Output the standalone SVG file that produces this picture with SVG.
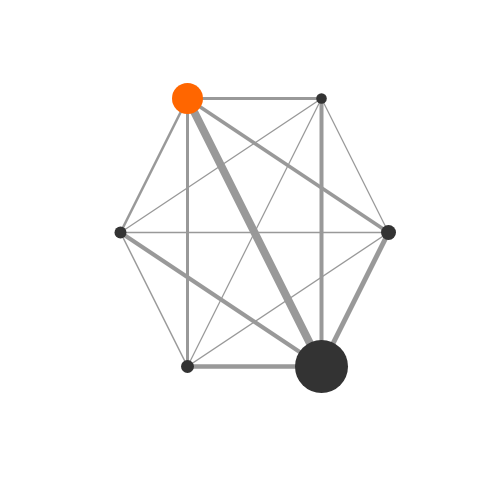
<svg xmlns="http://www.w3.org/2000/svg" width="480" height="480" viewBox="0 0 480 480">
<style>
.e{stroke:#999;stroke-linecap:butt;fill:none}
.n{fill:#333}
</style>
<rect width="480" height="480" fill="#fff"/>
<g id="edges">
<line class="e" x1="187.5" y1="98.5" x2="321.5" y2="98.5" stroke-width="3"/>
<line class="e" x1="187.5" y1="98.5" x2="388.5" y2="232.5" stroke-width="3.5"/>
<line class="e" x1="187.5" y1="98.5" x2="321.5" y2="366.5" stroke-width="8"/>
<line class="e" x1="187.5" y1="98.5" x2="187.5" y2="366.5" stroke-width="3"/>
<line class="e" x1="187.5" y1="98.5" x2="120.5" y2="232.5" stroke-width="2.5"/>
<line class="e" x1="321.5" y1="98.5" x2="388.5" y2="232.5" stroke-width="1.3"/>
<line class="e" x1="321.5" y1="98.5" x2="321.5" y2="366.5" stroke-width="4"/>
<line class="e" x1="321.5" y1="98.5" x2="187.5" y2="366.5" stroke-width="1.3"/>
<line class="e" x1="321.5" y1="98.5" x2="120.5" y2="232.5" stroke-width="1.3"/>
<line class="e" x1="388.5" y1="232.5" x2="321.5" y2="366.5" stroke-width="5"/>
<line class="e" x1="388.5" y1="232.5" x2="187.5" y2="366.5" stroke-width="1.5"/>
<line class="e" x1="388.5" y1="232.5" x2="120.5" y2="232.5" stroke-width="1.5"/>
<line class="e" x1="321.5" y1="366.5" x2="187.5" y2="366.5" stroke-width="4.5"/>
<line class="e" x1="321.5" y1="366.5" x2="120.5" y2="232.5" stroke-width="4"/>
<line class="e" x1="187.5" y1="366.5" x2="120.5" y2="232.5" stroke-width="1.5"/>
</g>
<g id="nodeA"><circle cx="187.5" cy="98.5" r="15.5" fill="#ff6600"/></g>
<g id="nodeB"><circle class="n" cx="321.5" cy="98.5" r="5.3"/></g>
<g id="nodeC"><circle class="n" cx="388.5" cy="232.5" r="7.5"/></g>
<g id="nodeD"><circle class="n" cx="321.5" cy="366.5" r="26.5"/></g>
<g id="nodeE"><circle class="n" cx="187.5" cy="366.5" r="6.5"/></g>
<g id="nodeF"><circle class="n" cx="120.5" cy="232.5" r="6"/></g>
</svg>
